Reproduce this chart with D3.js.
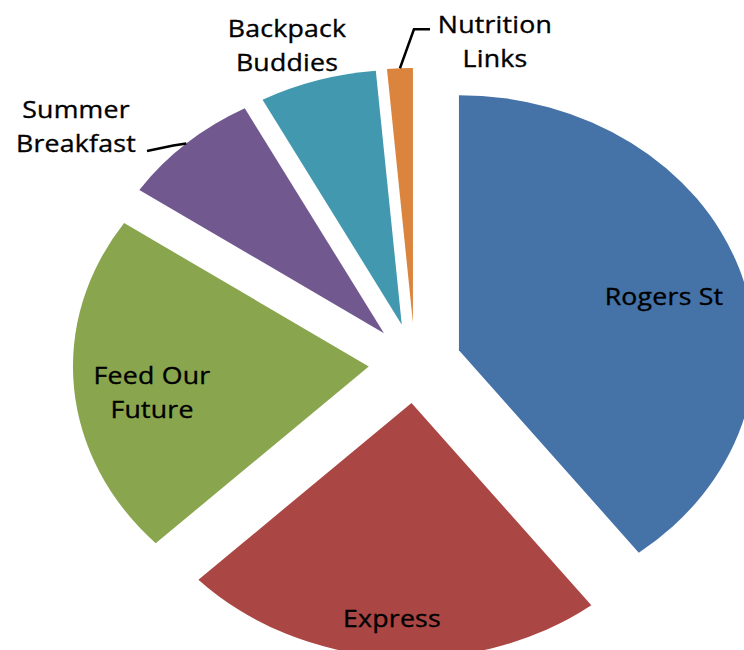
<!DOCTYPE html>
<html>
<head>
<meta charset="utf-8">
<script src="https://cdn.jsdelivr.net/npm/d3@7"></script>
<style>
  body { margin: 0; background: #fff; }
  svg { display: block; }
  .lbl { font-family: "Open Sans", sans-serif; font-size: 23px; fill: #000; stroke: #000; stroke-width: 0.35px; letter-spacing: 0.2px; }
</style>
</head>
<body>
<div id="chart"></div>
<script>
// data (share of total, %)
var programs = ["Rogers St", "Express", "Feed Our Future", "Summer Breakfast", "Backpack Buddies", "Nutrition Links"];
var shares = [39.6, 23.2, 21.7, 7.7, 6.4, 1.4];
var labelLines = [["Rogers St"], ["Express"], ["Feed Our", "Future"], ["Summer", "Breakfast"], ["Backpack", "Buddies"], ["Nutrition", "Links"]];
var colors = ["#4572A7", "#AA4643", "#89A54E", "#71588F", "#4198AF", "#DB843D"];

var svgWidth = 744;
var svgHeight = 650;

// the original picture is stretched sideways
var stretch = 1.16;
var cx = 415, cy = 363;
var radius = 255;
var explode = 40;

// label anchors (centre x, first baseline y)
var labelPos = [[664, 305], [392, 627], [152, 384], [76, 118], [287, 37], [495, 33]];
var lineGap = 34;

var svg = d3.select("#chart")
  .append("svg")
  .attr("width", svgWidth)
  .attr("height", svgHeight);

var data = programs.map(function(p, i) {
  return { name: p, value: shares[i], lines: labelLines[i], color: colors[i], pos: labelPos[i] };
});

var pie = d3.pie()
  .sort(null)
  .value(d => d.value);

var arc = d3.arc()
  .innerRadius(0)
  .outerRadius(radius);

var arcs = pie(data);

var pieGroup = svg.append("g")
  .attr("transform", `translate(${cx}, ${cy}) scale(${stretch}, 1)`);

function offset(d) {
  var mid = (d.startAngle + d.endAngle) / 2;
  return [explode * Math.sin(mid), -explode * Math.cos(mid)];
}

pieGroup.selectAll("path")
  .data(arcs)
  .enter()
  .append("path")
  .attr("transform", d => `translate(${offset(d)[0]}, ${offset(d)[1]})`)
  .attr("d", arc)
  .attr("fill", d => d.data.color);

// point on the outer edge at the middle of a slice, in page coords
function edgePoint(d) {
  var mid = (d.startAngle + d.endAngle) / 2;
  var o = offset(d);
  return [cx + stretch * (o[0] + radius * Math.sin(mid)), cy + o[1] - radius * Math.cos(mid)];
}

// leader lines for the two small outside labels
var summer = arcs[3], nutrition = arcs[5];
var sp = edgePoint(summer), np = edgePoint(nutrition);
var line = d3.line();
svg.append("path")
  .attr("d", line([[sp[0], sp[1]], [sp[0] - 13, sp[1] + 2], [summer.data.pos[0] + 71, summer.data.pos[1] + lineGap - 1]]))
  .attr("fill", "none").attr("stroke", "#000").attr("stroke-width", 2.5);
svg.append("path")
  .attr("d", line([[np[0], np[1]], [np[0] + 14, np[1] - 39], [nutrition.data.pos[0] - 65, np[1] - 39]]))
  .attr("fill", "none").attr("stroke", "#000").attr("stroke-width", 2.5);

var labels = svg.selectAll("g.label")
  .data(arcs)
  .enter()
  .append("g")
  .attr("class", "label")
  .attr("transform", d => `translate(${d.data.pos[0]}, ${d.data.pos[1]}) scale(${stretch}, 1)`);

labels.selectAll("text")
  .data(d => d.data.lines)
  .enter()
  .append("text")
  .attr("class", "lbl")
  .attr("text-anchor", "middle")
  .attr("y", (t, i) => i * lineGap)
  .text(t => t);
</script>
</body>
</html>
